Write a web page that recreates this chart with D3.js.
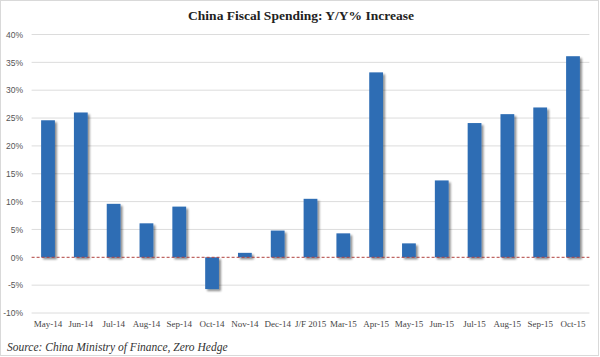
<!DOCTYPE html>
<html><head><meta charset="utf-8">
<script src="https://cdn.jsdelivr.net/npm/d3@7"></script>
<style>body{margin:0;background:#fff;}svg{display:block;}</style>
</head><body>
<svg id="c" width="600" height="357"></svg>
<script>
const categories = ["May-14","Jun-14","Jul-14","Aug-14","Sep-14","Oct-14","Nov-14","Dec-14","J/F 2015","Mar-15","Apr-15","May-15","Jun-15","Jul-15","Aug-15","Sep-15","Oct-15"];
const values = [24.6,26.0,9.6,6.1,9.1,-5.7,0.8,4.8,10.5,4.3,33.2,2.5,13.8,24.1,25.7,26.9,36.1];
const yTicks = [-10,-5,0,5,10,15,20,25,30,35,40];
const title = "China Fiscal Spending: Y/Y% Increase";
const source = "Source: China Ministry of Finance, Zero Hedge";

const svg = d3.select("#c");
svg.append("rect").attr("x",0.5).attr("y",0.5).attr("width",598).attr("height",355)
  .attr("fill","#fff").attr("stroke","#d9d9d9");

const x = d3.scaleBand().domain(categories).range([31.6,589.4]).paddingInner(0.58).paddingOuter(0.29);
const y = d3.scaleLinear().domain([-10,40]).range([313,34.5]);

const defs = svg.append("defs");
const f = defs.append("filter").attr("id","sh").attr("x","-50%").attr("y","-50%").attr("width","200%").attr("height","200%");
f.append("feGaussianBlur").attr("in","SourceAlpha").attr("stdDeviation",1);
f.append("feOffset").attr("dx",1.5).attr("dy",1.5).attr("result","b");
f.append("feComponentTransfer").append("feFuncA").attr("type","linear").attr("slope",0.45);
const m = f.append("feMerge"); m.append("feMergeNode"); m.append("feMergeNode").attr("in","SourceGraphic");

// gridlines
svg.append("g").selectAll("line").data(yTicks.filter(d=>d!==0)).join("line")
  .attr("x1",31.6).attr("x2",589.4).attr("y1",d=>y(d)).attr("y2",d=>y(d))
  .attr("stroke","#dcdcdc").attr("stroke-width",1);

// y axis labels
const yAxis = d3.axisLeft(y).tickValues(yTicks).tickFormat(d=>d+"%").tickSize(0).tickPadding(0);
const gy = svg.append("g").attr("transform","translate(23,0)").call(yAxis);
gy.select(".domain").remove();
gy.selectAll("text").attr("font-family","Liberation Sans Narrow, Liberation Sans, Arial").attr("font-size",8.5).attr("fill","#555");

// bars
svg.append("g").attr("filter","url(#sh)").selectAll("rect").data(values).join("rect")
  .attr("x",(d,i)=>x(categories[i])).attr("width",x.bandwidth())
  .attr("y",d=>y(Math.max(0,d))).attr("height",d=>Math.abs(y(d)-y(0)))
  .attr("fill","#2e6db4");

// zero line
svg.append("line").attr("x1",31.6).attr("x2",589.4).attr("y1",y(0)).attr("y2",y(0))
  .attr("stroke","#b0403d").attr("stroke-width",1).attr("stroke-dasharray","3,2");

// x axis labels
const xAxis = d3.axisBottom(x).tickSize(0).tickPadding(0);
const gx = svg.append("g").attr("transform","translate(0,321)").call(xAxis);
gx.select(".domain").remove();
gx.selectAll("text").attr("font-family","Liberation Serif, Times New Roman, serif").attr("font-size",9).attr("fill","#444");

svg.append("text").attr("x",301).attr("y",20).attr("text-anchor","middle")
  .attr("font-family","Liberation Serif, Times New Roman, serif").attr("font-weight","bold")
  .attr("font-size",13.5).attr("fill","#222").text(title);

svg.append("text").attr("x",7).attr("y",351)
  .attr("font-family","Liberation Serif, Times New Roman, serif").attr("font-style","italic")
  .attr("font-size",11.5).attr("fill","#333").text(source);
</script>
</body></html>
